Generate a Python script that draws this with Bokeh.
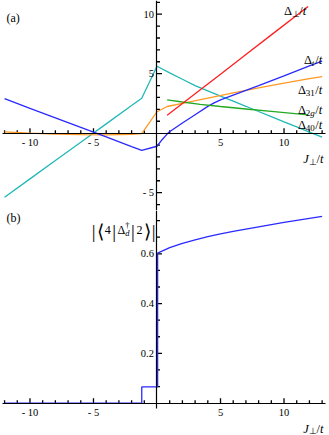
from bokeh.plotting import figure
from bokeh.layouts import column
from bokeh.models import Label, FixedTicker, CustomJSTickFormatter, AllLabels
from bokeh.embed import file_html
from bokeh.resources import INLINE

# ---------------- panel (a) data ----------------
dt_x = [-12, -10, -8, -6, -4, -2, -1.2, 0, 0.4, 0.9, 2, 3, 4, 4.5, 5, 6, 8, 10, 12, 13]
dt_y = [2.9, 2.09, 1.29, 0.48, -0.32, -1.13, -1.45, -1.1, -0.55, 0.05, 0.85, 1.55, 2.25, 2.55, 2.8, 3.2, 4.0, 4.82, 5.65, 6.05]

d40_x = [-12, -10, -8, -6, -4, -2, -1.2, 0, 1, 2, 3, 4, 5, 6, 7, 8, 9, 10, 11, 12, 13]
d40_y = [-5.38, -3.84, -2.3, -0.76, 0.78, 2.32, 2.94, 5.62, 5.07, 4.53, 4.0, 3.56, 3.12, 2.69, 2.26, 1.82, 1.39, 0.95, 0.52, 0.09, -0.34]

d31_x = [-12, -10, -8, -6, -4, -2, -1.2, 0, 0.8, 2, 4, 6, 8, 10, 12, 13]
d31_y = [0.1, 0.0, -0.08, -0.13, -0.14, -0.1, -0.04, 1.8, 2.24, 2.5, 2.94, 3.38, 3.8, 4.2, 4.58, 4.76]

dperp_x = [0.8, 3, 5, 7, 9, 11.9]
dperp_y = [1.5, 3.31, 4.96, 6.61, 8.26, 10.65]

d2g_x = [0.8, 2, 3.4, 5, 7, 9, 11.9]
d2g_y = [2.8, 2.62, 2.42, 2.24, 2.03, 1.83, 1.54]

# ---------------- panel (b) data ----------------
b_x = [-12, -1.2, -1.2, 0.05, 0.05, 1, 2, 3, 4, 5, 6, 7, 8, 9, 10, 11, 12, 13]
b_y = [0, 0, 0.065, 0.065, 0.603, 0.625, 0.642, 0.656, 0.669, 0.68, 0.69, 0.699, 0.708, 0.717, 0.726, 0.734, 0.742, 0.75]

# tick values
x_major = [-10, -5, 5, 10]
x_minor = [v for v in range(-12, 14) if v % 5 != 0]
ya_major = [-5, 5, 10]
ya_minor = [v for v in range(-6, 12) if v % 5 != 0]
yb_major = [0.2, 0.4, 0.6]
yb_minor = [round(0.2 / 3 * k, 4) for k in range(1, 12) if k % 3 != 0]

FONT = "Liberation Serif"
BLUE = "#2a2aff"
CYAN = "#22b8b8"
ORANGE = "#ff9922"
RED = "#ff2020"
GREEN = "#22aa22"

W = 329
XR = (-12.32, 13.58)
XB = (-12.19, 13.27)
H1, H2 = 210, 225
YR1 = (-6.5, 11.15)
YR2 = (-0.13, 0.774)

WIDTHS = {"Δ": 0.612, "/": 0.278, "t": 0.278, "J": 0.444, "⊥": 0.80, "g": 0.5, "d": 0.5,
          "†": 0.5, "|": 0.2, "⟨": 0.33, "⟩": 0.33, "(": 0.333, ")": 0.333, "a": 0.444, "b": 0.5}


def est_w(text, size):
    return sum(WIDTHS.get(c, 0.5) for c in text) * size


def rich(p, x, y, parts, align="right"):
    # parts: (text, size, dy, italic, pad, advance)
    total = 0
    for t, s, dy, it, pad, adv in parts:
        if adv:
            total += est_w(t, s) + pad
    off = -total if align == "right" else 0
    for t, s, dy, it, pad, adv in parts:
        p.add_layout(Label(x=x, y=y, x_offset=off, y_offset=dy, text=t,
                           text_font=FONT, text_font_size=f"{s}px",
                           text_font_style="italic" if it else "normal",
                           text_align="left", text_baseline="alphabetic",
                           text_color="black"))
        if adv:
            off += est_w(t, s) + pad


def style(p, ymajor, yminor, yfmt, yr, h):
    p.outline_line_color = None
    p.grid.visible = False
    p.background_fill_color = "white"
    p.border_fill_color = "white"
    p.min_border = 0
    for ax in (p.xaxis[0], p.yaxis[0]):
        ax.fixed_location = 0
        ax.axis_line_color = "black"
        ax.axis_line_width = 1.2
        ax.major_tick_line_color = None
        ax.minor_tick_line_color = None
        ax.major_tick_out = 0
        ax.minor_tick_out = 0
        ax.major_tick_in = 0
        ax.minor_tick_in = 0
        ax.major_label_text_font = FONT
        ax.major_label_text_font_size = "10.5px"
        ax.major_label_text_color = "black"
        ax.major_label_policy = AllLabels()
    p.xaxis[0].ticker = FixedTicker(ticks=x_major, minor_ticks=[])
    p.xaxis[0].formatter = CustomJSTickFormatter(
        code="return tick < 0 ? '- ' + Math.abs(tick) : String(tick);")
    p.xaxis[0].major_label_standoff = 4
    p.xaxis[0].bounds = XB
    p.yaxis[0].ticker = FixedTicker(ticks=ymajor, minor_ticks=[])
    p.yaxis[0].formatter = CustomJSTickFormatter(code=yfmt)
    p.yaxis[0].major_label_standoff = 3

    # inward tick marks (pixel lengths converted to data units of this panel)
    ux = (XR[1] - XR[0]) / W      # data units per pixel, x
    uy = (yr[1] - yr[0]) / h      # data units per pixel, y
    for ticks, L in ((x_major, 5), (x_minor, 3)):
        p.segment(x0=ticks, y0=[0] * len(ticks), x1=ticks, y1=[L * uy] * len(ticks),
                  line_color="black", line_width=1.3)
    for ticks, L in ((ymajor, 5), (yminor, 3)):
        p.segment(x0=[0] * len(ticks), y0=ticks, x1=[L * ux] * len(ticks), y1=ticks,
                  line_color="black", line_width=1.3)


# ---------------- top panel ----------------
p1 = figure(width=W, height=H1, x_range=XR, y_range=YR1,
            output_backend="svg", toolbar_location=None)
style(p1, ya_major, ya_minor, "return tick < 0 ? '- ' + Math.abs(tick) : String(tick);", YR1, H1)
lw = 1.3
p1.line(d40_x, d40_y, line_color=CYAN, line_width=lw)
p1.line(d31_x, d31_y, line_color=ORANGE, line_width=lw)
p1.line(dt_x, dt_y, line_color=BLUE, line_width=lw)
p1.line(d2g_x, d2g_y, line_color=GREEN, line_width=lw)
p1.line(dperp_x, dperp_y, line_color=RED, line_width=lw)

rich(p1, -11.85, 9.72, [("(a)", 12, 0, False, 0, True)], align="left")
XL = 13.0
rich(p1, 11.75, 10.27, [("Δ", 12.5, 0, False, 0, True), ("⊥", 9, -3, False, 0.5, True),
                        ("/", 12.5, 0, False, 0, True), ("t", 12.5, 0, True, 0, True)])
rich(p1, XL, 6.11, [("Δ", 12.5, 0, False, 0, True), ("t", 9, -3, True, 1, True),
                    ("/", 12.5, 0, False, 0, True), ("t", 12.5, 0, True, 0, True)])
rich(p1, XL, 3.59, [("Δ", 12.5, 0, False, 0, True), ("31", 9, -3, False, 0.5, True),
                    ("/", 12.5, 0, False, 0, True), ("t", 12.5, 0, True, 0, True)])
rich(p1, XL, 1.91, [("Δ", 12.5, 0, False, 0, True), ("2", 9, -3, False, 0, True),
                    ("g", 9, -3, True, 0.5, True),
                    ("/", 12.5, 0, False, 0, True), ("t", 12.5, 0, True, 0, True)])
rich(p1, XL, 0.65, [("Δ", 12.5, 0, False, 0, True), ("40", 9, -3, False, 0.5, True),
                    ("/", 12.5, 0, False, 0, True), ("t", 12.5, 0, True, 0, True)])
rich(p1, 13.1, -2.21, [("J", 12.5, 0, True, 0, True), ("⊥", 9, -3, False, 0.5, True),
                       ("/", 12.5, 0, False, 0, True), ("t", 12.5, 0, True, 0, True)])

# ---------------- bottom panel ----------------
p2 = figure(width=W, height=H2, x_range=XR, y_range=YR2,
            output_backend="svg", toolbar_location=None)
style(p2, yb_major, yb_minor, "return tick.toFixed(1);", YR2, H2)
p2.yaxis[0].bounds = (-0.022, 0.774)
p2.line(b_x, b_y, line_color=BLUE, line_width=lw)

rich(p2, -11.85, 0.742, [("(b)", 12, 0, False, 0, True)], align="left")
rich(p2, -0.12, 0.697, [("|", 19, -1.5, False, 1.5, True), ("⟨", 19, -1.5, False, 1.5, True),
                        ("4", 12, 0, False, 1.5, True), ("|", 19, -1.5, False, 1.5, True),
                        ("Δ", 12, 0, False, 0.5, True), ("†", 8.5, 5, False, 0, False),
                        ("d", 8.5, -3, True, 1.5, True), ("|", 19, -1.5, False, 1.5, True),
                        ("2", 12, 0, False, 1.5, True), ("⟩", 19, -1.5, False, 1.5, True),
                        ("|", 19, -1.5, False, 0, True)])
rich(p2, 13.1, -0.103, [("J", 12.5, 0, True, 0, True), ("⊥", 9, -2.5, False, 0.5, True),
                        ("/", 12.5, 0, False, 0, True), ("t", 12.5, 0, True, 0, True)])

layout = column(p1, p2)
open("out.html", "w").write(file_html(layout, INLINE))
